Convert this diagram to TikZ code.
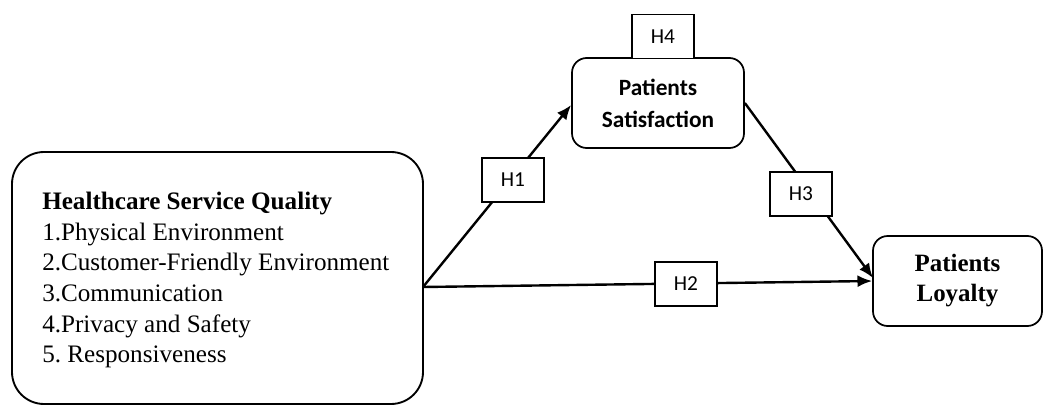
\documentclass[tikz,border=0pt]{standalone}
\usepackage{fontspec}
\setmainfont{Liberation Serif}
\newfontfamily\calfont{Carlito}
\usetikzlibrary{arrows.meta}
\begin{document}
\frenchspacing
\begin{tikzpicture}[x=0.75pt,y=-0.75pt,
  bigbox/.style={draw, line width=1.4pt, rounded corners=24pt, minimum width=308.25pt, minimum height=189pt, inner sep=0pt},
  satbox/.style={draw, line width=1.3pt, rounded corners=11pt, minimum width=129pt, minimum height=67.5pt, align=center, inner sep=0pt, font=\calfont\bfseries\fontsize{17.5}{24}\selectfont},
  loybox/.style={draw, line width=1.3pt, rounded corners=11pt, minimum width=126.75pt, minimum height=67.5pt, align=center, inner sep=0pt, font=\bfseries\fontsize{18.7}{22.5}\selectfont},
  hbox/.style={draw, fill=white, line width=1pt, minimum width=46.5pt, minimum height=33pt, inner sep=0pt, font=\calfont\fontsize{16}{19}\selectfont},
  arr/.style={line width=1.8pt, -{Latex[length=11pt,width=9pt]}}
]
\useasboundingbox (0,0) rectangle (1046,407);
\node[bigbox] (hsq) at (217.5,278) {};
\node[anchor=west, align=left, inner sep=0pt, font=\fontsize{18.85}{23}\selectfont] (hsqtext) at (42,280)
  {\textbf{Healthcare Service Quality}\\1.Physical Environment\\2.Customer-Friendly Environment\\3.Communication\\4.Privacy and Safety\\5. Responsiveness};
\node[satbox] (sat) at (658,103) {Patients\\Satisfaction};
\node[loybox] (loy) at (957.5,281) {Patients\\Loyalty};
\coordinate (src) at (423,287);
\draw[arr] (src) -- (sat.west |- 0,105);
\draw[arr] (src) -- (loy.west);
\draw[arr] (sat.east) -- (873,278);
\node[hbox] (h1) at (513,180) {H1};
\node[hbox] (h2) at (686,284) {H2};
\node[hbox] (h3) at (801,194) {H3};
\node[hbox, anchor=south] (h4) at (663,59) {H4};
\end{tikzpicture}
\end{document}
